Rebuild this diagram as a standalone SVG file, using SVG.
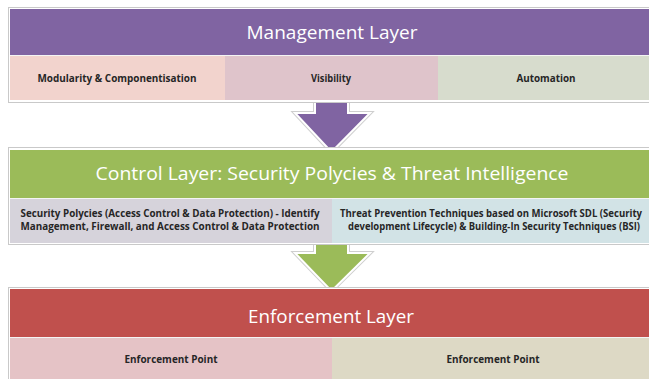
<svg xmlns="http://www.w3.org/2000/svg" width="649" height="379" viewBox="0 0 649 379">
<style>
.frame{fill:#fff;stroke:#c9c9c9;stroke-width:1}
.hdr{font-family:"Open Sans","Liberation Sans",sans-serif;font-size:18px;fill:#fff;text-anchor:middle}
.sub{font-family:"Open Sans","Liberation Sans",sans-serif;font-size:10px;font-weight:bold;fill:#262626;text-anchor:middle}
.sep{stroke:#f4f4f4;stroke-width:1}
.arrow{stroke:#fff;stroke-width:2;stroke-linejoin:miter}
.arrowout{fill:none;stroke:#cfcfcf;stroke-width:4;stroke-linejoin:miter}
</style>
<rect width="649" height="379" fill="#fff"/>
<g id="connectors">
<polygon class="arrowout" points="315,101 348,101 348,113 370,113 331.5,152 295,113 315,113"/>
<polygon class="arrow" fill="#8064A2" points="315,101 348,101 348,113 370,113 331.5,152 295,113 315,113"/>
<polygon class="arrowout" points="315,243 348,243 348,253 370,253 331.5,291 295,253 315,253"/>
<polygon class="arrow" fill="#9BBB59" points="315,243 348,243 348,253 370,253 331.5,291 295,253 315,253"/>
</g>
<g id="management">
<rect class="frame" x="8.5" y="7.5" width="650" height="95"/>
<rect x="10" y="9" width="640" height="46" fill="#8064A2"/>
<rect x="10" y="55" width="215" height="45" fill="#F2D3CD"/>
<rect x="225" y="55" width="213" height="45" fill="#DFC4CB"/>
<rect x="438" y="55" width="212" height="45" fill="#D7DCCD"/>
<line class="sep" x1="10" y1="55.5" x2="650" y2="55.5"/>
<text class="hdr" x="332" y="39" textLength="171" lengthAdjust="spacingAndGlyphs">Management Layer</text>
<text class="sub" x="117" y="81.5" textLength="159" lengthAdjust="spacingAndGlyphs">Modularity &amp; Componentisation</text>
<text class="sub" x="331" y="81.5" textLength="40" lengthAdjust="spacingAndGlyphs">Visibility</text>
<text class="sub" x="546" y="81.5" textLength="59" lengthAdjust="spacingAndGlyphs">Automation</text>
</g>
<g id="control">
<rect class="frame" x="8.5" y="147.5" width="650" height="97"/>
<rect x="10" y="150" width="640" height="48" fill="#9BBB59"/>
<rect x="10" y="198" width="322" height="45" fill="#D6D3DB"/>
<rect x="332" y="198" width="318" height="45" fill="#D2E3E6"/>
<line class="sep" x1="10" y1="198.5" x2="650" y2="198.5"/>
<text class="hdr" x="332" y="180" textLength="473" lengthAdjust="spacingAndGlyphs">Control Layer: Security Polycies &amp; Threat Intelligence</text>
<text class="sub" x="170" y="217" textLength="299" lengthAdjust="spacingAndGlyphs">Security Polycies (Access Control &amp; Data Protection) - Identify</text>
<text class="sub" x="170" y="230" textLength="299" lengthAdjust="spacingAndGlyphs">Management, Firewall, and Access Control &amp; Data Protection</text>
<text class="sub" x="491" y="217" textLength="302" lengthAdjust="spacingAndGlyphs">Threat Prevention Techniques based on Microsoft SDL (Security</text>
<text class="sub" x="494" y="230" textLength="292" lengthAdjust="spacingAndGlyphs">development Lifecycle) &amp; Building-In Security Techniques (BSI)</text>
</g>
<g id="enforcement">
<rect class="frame" x="8.5" y="287.5" width="650" height="100"/>
<rect x="10" y="289" width="640" height="48" fill="#C0504D"/>
<rect x="10" y="337" width="322" height="42" fill="#E5C3C6"/>
<rect x="332" y="337" width="318" height="42" fill="#DDD9C5"/>
<line class="sep" x1="10" y1="337.5" x2="650" y2="337.5"/>
<text class="hdr" x="331" y="323" textLength="166" lengthAdjust="spacingAndGlyphs">Enforcement Layer</text>
<text class="sub" x="171" y="362.5" textLength="93" lengthAdjust="spacingAndGlyphs">Enforcement Point</text>
<text class="sub" x="493" y="362.5" textLength="93" lengthAdjust="spacingAndGlyphs">Enforcement Point</text>
</g>
</svg>
